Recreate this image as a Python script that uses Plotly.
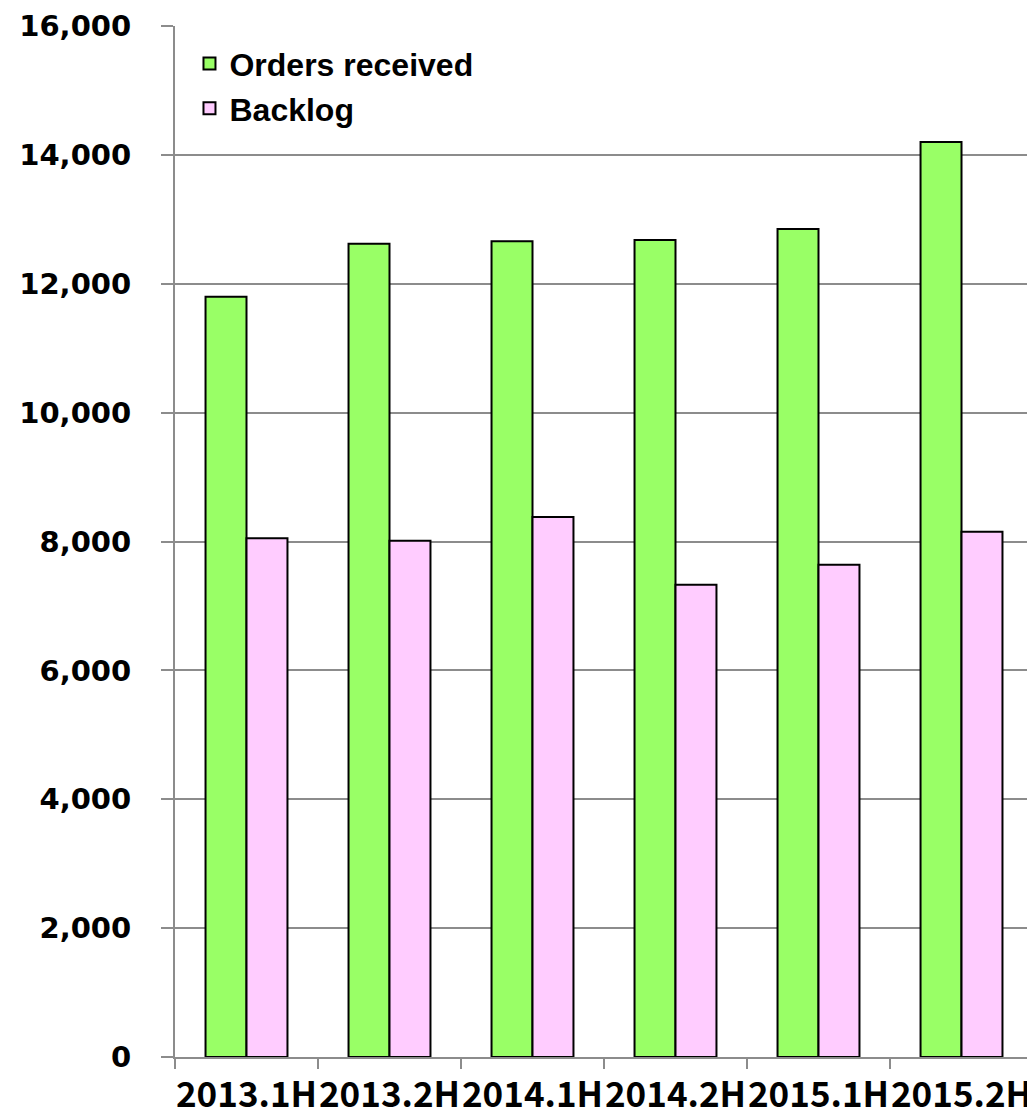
import plotly.graph_objects as go

# Half-year periods and values
periods = ["2013.1H", "2013.2H", "2014.1H", "2014.2H", "2015.1H", "2015.2H"]
orders_received = [11800, 12620, 12660, 12680, 12850, 14200]
backlog = [8050, 8010, 8380, 7330, 7640, 8150]

GRID = "#8c8c8c"

fig = go.Figure()
fig.add_trace(go.Bar(
    name="Orders received", x=periods, y=orders_received,
    marker=dict(color="#99ff66", line=dict(color="#000000", width=2)),
))
fig.add_trace(go.Bar(
    name="Backlog", x=periods, y=backlog,
    marker=dict(color="#ffccff", line=dict(color="#000000", width=2)),
))

fig.update_layout(
    width=1027, height=1115,
    margin=dict(l=175, r=0, t=26, b=58, autoexpand=False),
    paper_bgcolor="white", plot_bgcolor="white",
    barmode="group", bargap=0.427, bargroupgap=0,
    showlegend=True,
    legend=dict(
        x=0.017, y=0.99, xanchor="left", yanchor="top",
        bgcolor="rgba(0,0,0,0)",
        font=dict(family="Liberation Sans, Arial, sans-serif", size=32,
                  color="black", weight="bold"),
        tracegroupgap=0, itemwidth=30,
    ),
)

fig.update_xaxes(
    type="category", range=[-0.5, 5.458],
    showgrid=False, showline=True, linecolor=GRID, linewidth=2,
    ticks="outside", tickson="boundaries", ticklen=10, tickcolor=GRID, tickwidth=2,
    tickangle=0, ticklabelstandoff=6,
    tickfont=dict(family="Noto Sans CJK JP", size=35, color="black", weight="bold"),
    automargin=False,
)
fig.update_yaxes(
    range=[0, 16000], dtick=2000, tickformat=",",
    showgrid=True, gridcolor=GRID, gridwidth=2,
    showline=True, linecolor=GRID, linewidth=2, zeroline=False,
    ticks="outside", ticklen=12, tickcolor=GRID, tickwidth=2,
    ticklabelstandoff=24,
    tickfont=dict(family="DejaVu Sans", size=29, color="black", weight="bold"),
    automargin=False,
)

fig.write_html("out.html")
